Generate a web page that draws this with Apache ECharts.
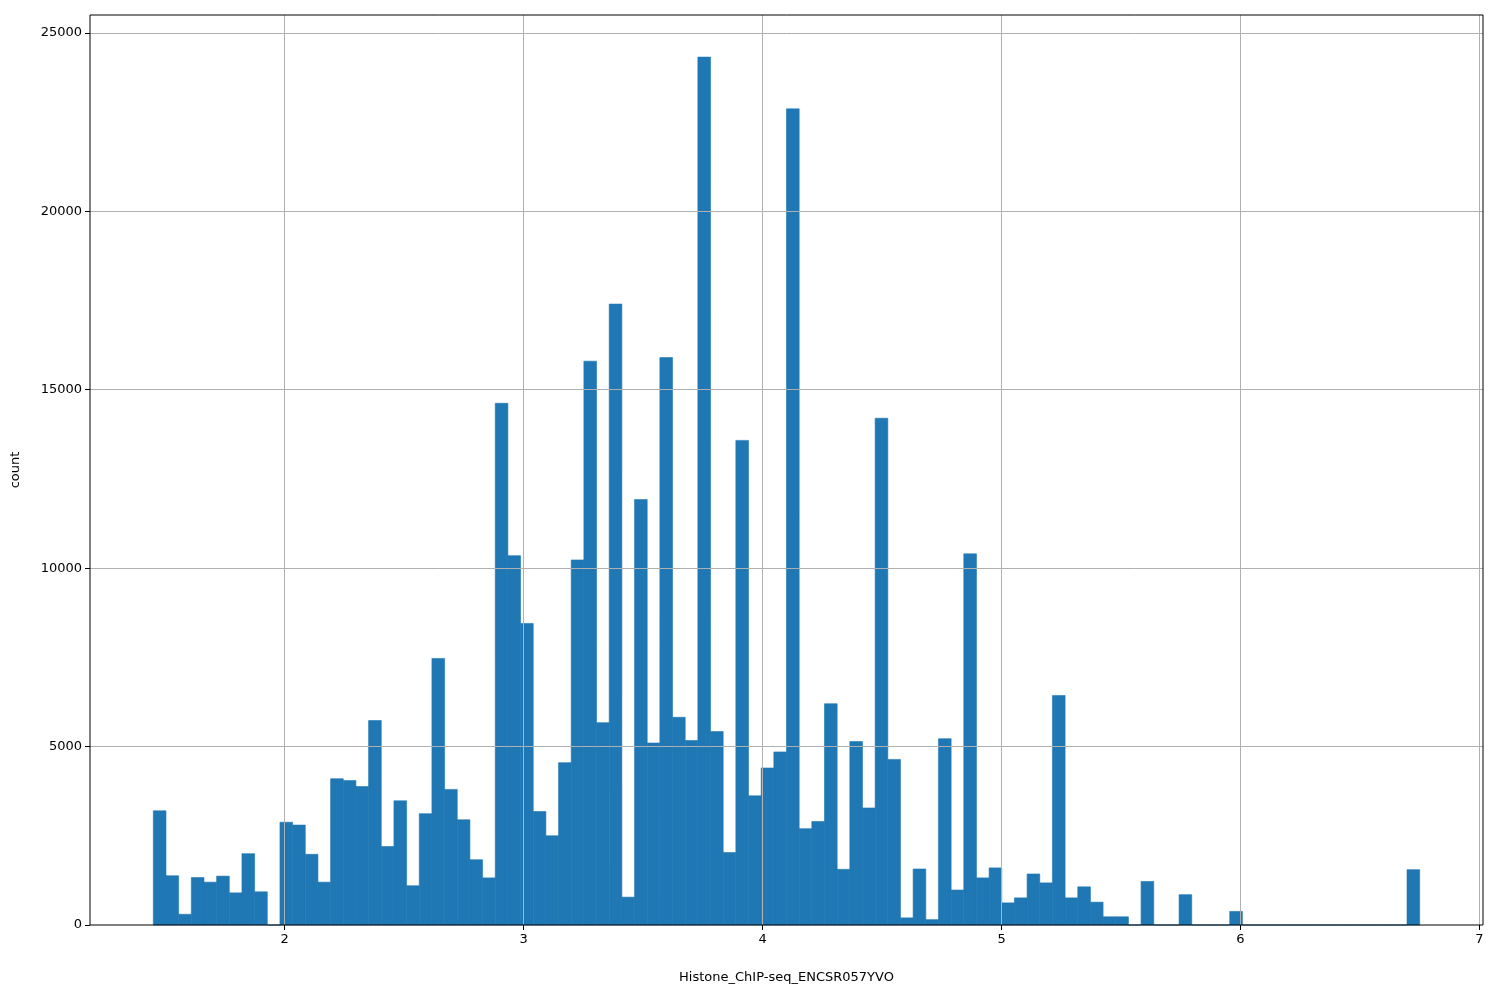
<!DOCTYPE html>
<html>
<head>
<meta charset="utf-8">
<title>histogram</title>
<script src="https://cdn.jsdelivr.net/npm/echarts@6/dist/echarts.min.js"></script>
</head>
<body style="margin:0">
<div id="main" style="width:1500px;height:1000px;"></div>
<script>
// histogram: 100 equal bins starting at binStart
var binStart = 1.45;
var binWidth = 0.053;
var counts = [
  3200, 1380, 300, 1330, 1200, 1370, 900, 2000, 930, 0,
  2880, 2800, 1980, 1200, 4100, 4050, 3880, 5730, 2200, 3480,
  1100, 3120, 7470, 3800, 2950, 1830, 1320, 14620, 10350, 8450,
  3180, 2500, 4550, 10230, 15800, 5670, 17400, 780, 11920, 5100,
  15900, 5820, 5170, 24320, 5420, 2030, 13580, 3620, 4400, 4850,
  22870, 2700, 2900, 6200, 1560, 5140, 3280, 14200, 4640, 200,
  1570, 150, 5220, 980, 10400, 1320, 1600, 620, 760, 1430,
  1180, 6430, 760, 1070, 640, 230, 230, 0, 1220, 0,
  0, 850, 0, 0, 0, 380, 0, 0, 0, 0,
  0, 0, 0, 0, 0, 0, 0, 0, 0, 1550
];
var xTicks = [2, 3, 4, 5, 6, 7];
var yTicks = [0, 5000, 10000, 15000, 20000, 25000];

var bins = counts.map(function (c, i) {
  return [binStart + i * binWidth, binStart + (i + 1) * binWidth, c];
});

var chart = echarts.init(document.getElementById('main'));
var font = 'DejaVu Sans';
chart.setOption({
  animation: false,
  backgroundColor: '#fff',
  grid: { left: 90, right: 17, top: 15, bottom: 75, show: true, borderColor: '#000', borderWidth: 1, z: 10 },
  xAxis: {
    type: 'value', min: 1.185, max: 7.015,
    name: 'Histone_ChIP-seq_ENCSR057YVO', nameLocation: 'middle', nameGap: 46,
    nameTextStyle: { fontFamily: font, fontSize: 13, color: '#000' },
    axisLine: { show: false },
    axisTick: { show: true, length: 5, customValues: xTicks, lineStyle: { color: '#000' } },
    axisLabel: { customValues: xTicks, fontFamily: font, fontSize: 13, color: '#000', margin: 8 },
    splitLine: { show: false }
  },
  yAxis: {
    type: 'value', min: 0, max: 25500,
    name: 'count', nameLocation: 'middle', nameGap: 68, nameRotate: 90,
    nameTextStyle: { fontFamily: font, fontSize: 13, color: '#000' },
    axisLine: { show: false },
    axisTick: { show: true, length: 5, customValues: yTicks, lineStyle: { color: '#000' } },
    axisLabel: { customValues: yTicks, formatter: function (v) { return String(v); },
      fontFamily: font, fontSize: 13, color: '#000', margin: 8 },
    splitLine: { show: false }
  },
  series: [{
    type: 'custom',
    data: bins,
    z: 2,
    renderItem: function (params, api) {
      var p0 = api.coord([api.value(0), api.value(2)]);
      var p1 = api.coord([api.value(1), 0]);
      return {
        type: 'rect',
        shape: { x: p0[0], y: p0[1], width: p1[0] - p0[0], height: p1[1] - p0[1] },
        style: { fill: '#1f77b4', stroke: '#1f77b4', lineWidth: 0.6 }
      };
    }
  }, {
    type: 'line',
    data: [],
    z: 5,
    markLine: {
      silent: true, symbol: 'none', label: { show: false },
      lineStyle: { color: '#b0b0b0', type: 'solid', width: 1 },
      data: xTicks.map(function (v) { return { xAxis: v }; })
        .concat(yTicks.slice(1).map(function (v) { return { yAxis: v }; }))
    }
  }]
});
</script>
</body>
</html>
